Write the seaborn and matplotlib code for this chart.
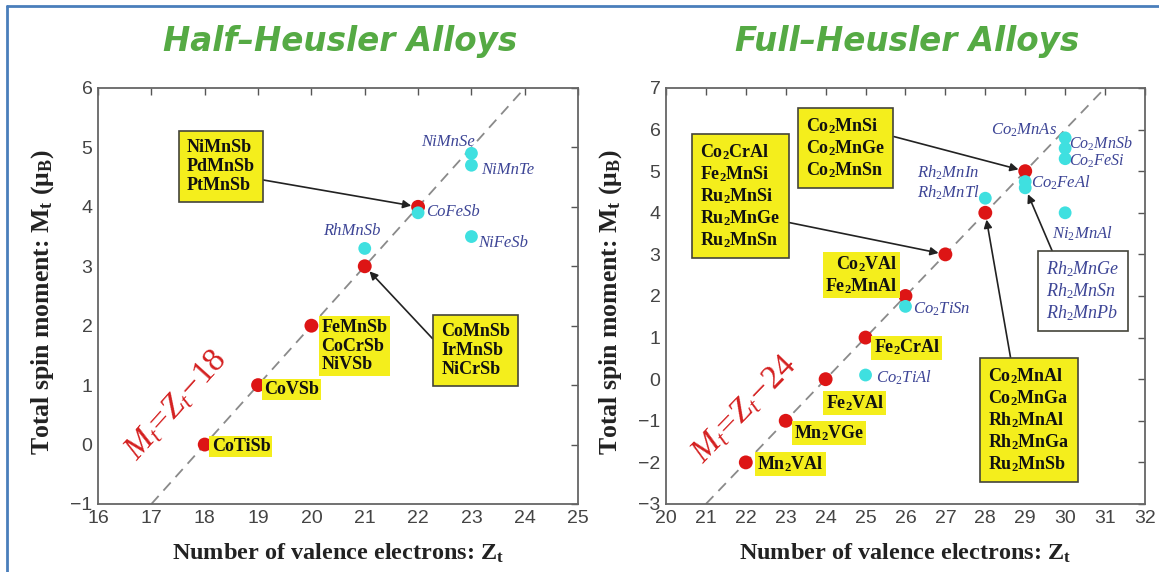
import matplotlib
matplotlib.use('Agg')
import matplotlib.pyplot as plt
import seaborn as sns
from matplotlib.lines import Line2D

# ---- data: half-Heusler ----
hh_red_z = [18, 19, 20, 21, 22]
hh_red_m = [0, 1, 2, 3, 4]
hh_cyan_z = [21, 22, 23, 23, 23]
hh_cyan_m = [3.3, 3.9, 4.9, 4.7, 3.5]
hh_line_z = [17, 24]
hh_line_m = [-1, 6]

# ---- data: full-Heusler ----
fh_red_z = [22, 23, 24, 25, 26, 27, 28, 29]
fh_red_m = [-2, -1, 0, 1, 2, 3, 4, 5]
fh_cyan_z = [25, 26, 28, 29, 29, 30, 30, 30, 30]
fh_cyan_m = [0.1, 1.75, 4.35, 4.75, 4.6, 5.8, 5.55, 5.3, 4.0]
fh_line_z = [21, 31]
fh_line_m = [-3, 7]

sns.set_style('white')
plt.rcParams['font.family'] = ['Liberation Serif', 'DejaVu Serif']
plt.rcParams['mathtext.fontset'] = 'custom'
plt.rcParams['mathtext.rm'] = 'Liberation Serif'
plt.rcParams['mathtext.it'] = 'Liberation Serif:italic'
plt.rcParams['mathtext.bf'] = 'Liberation Serif:bold'

RED = '#dd1515'
CYAN = '#3fe0e0'
BLUE = '#3d4596'
YEL = '#f4ee1c'
GREEN = '#55aa44'

fig = plt.figure(figsize=(11.59, 5.72), dpi=100)
ax1 = fig.add_axes([0.0846, 0.1189, 0.4142, 0.7273])
ax2 = fig.add_axes([0.5746, 0.1189, 0.4133, 0.7273])


def style_axes(ax, xlim, ylim):
    ax.set_xlim(*xlim)
    ax.set_ylim(*ylim)
    ax.set_xticks(range(xlim[0], xlim[1] + 1))
    ax.set_yticks(range(ylim[0], ylim[1] + 1))
    for lab in ax.get_xticklabels() + ax.get_yticklabels():
        lab.set_family('Liberation Sans')
    ax.tick_params(direction='in', top=True, right=True, length=5, width=1,
                   color='#555555', labelcolor='#444444', labelsize=14, pad=4)
    for s in ax.spines.values():
        s.set_color('#666666')
        s.set_linewidth(1.3)
    ax.set_xlabel(r'Number of valence electrons: Z$_\mathbf{t}$', fontsize=17.5,
                  fontweight='bold', color='#222222')
    ax.set_ylabel(r'Total spin moment: M$_\mathbf{t}$ ($\mathbf{\mu}_\mathbf{B}$)',
                  fontsize=18.5, fontweight='bold', color='#222222')
    ax.xaxis.set_label_coords(0.5, -0.09)
    ax.yaxis.set_label_coords(-0.088, 0.486)


def plot_points(ax, lz, lm, rz, rm, cz, cm):
    sns.lineplot(x=lz, y=lm, ax=ax, color='#8a8a8a', lw=1.3, linestyle=(0, (6, 4)))
    sns.scatterplot(x=rz, y=rm, ax=ax, color=RED, s=100, edgecolor='none', zorder=3)
    sns.scatterplot(x=cz, y=cm, ax=ax, color=CYAN, s=85, edgecolor='none', zorder=4)


def ylabel_plain(ax, x, y, s, ha='left', va='center'):
    ax.text(x, y, s, ha=ha, va=va, fontsize=13, fontweight='bold', color='#111111',
            zorder=5, linespacing=1.15,
            bbox=dict(boxstyle='square,pad=0.12', fc=YEL, ec='none'))


def blue(ax, x, y, s, ha='left', va='center', size=12):
    ax.text(x, y, s, ha=ha, va=va, fontsize=size, style='italic', color=BLUE, zorder=5)


def boxed(ax, xy, xytext, s, relpos, fc=YEL, color='#111111', italic=False):
    ax.annotate(s, xy=xy, xytext=xytext, ha='center', va='center', fontsize=13,
                fontweight='normal' if italic else 'bold',
                style='italic' if italic else 'normal', color=color,
                multialignment='left', linespacing=1.15, zorder=6,
                bbox=dict(boxstyle='square,pad=0.45', fc=fc, ec='#44443a', lw=1.2),
                arrowprops=dict(arrowstyle='-|>', color='#222222', lw=1.2,
                                relpos=relpos, shrinkA=0, shrinkB=5,
                                mutation_scale=12))


# ---- left panel ----
plot_points(ax1, hh_line_z, hh_line_m, hh_red_z, hh_red_m, hh_cyan_z, hh_cyan_m)
style_axes(ax1, (16, 25), (-1, 6))
ylabel_plain(ax1, 18.13, -0.03, 'CoTiSb')
ylabel_plain(ax1, 19.11, 0.93, 'CoVSb')
ylabel_plain(ax1, 20.19, 2.12, 'FeMnSb\nCoCrSb\nNiVSb', va='top')
boxed(ax1, (22, 4), (18.3, 4.68), 'NiMnSb\nPdMnSb\nPtMnSb', (1, 0.28))
boxed(ax1, (21, 3), (23.08, 1.58), 'CoMnSb\nIrMnSb\nNiCrSb', (0, 0.55))
blue(ax1, 23.07, 5.09, 'NiMnSe', ha='right')
blue(ax1, 23.19, 4.62, 'NiMnTe')
blue(ax1, 22.15, 3.91, 'CoFeSb')
blue(ax1, 20.76, 3.6, 'RhMnSb', ha='center')
blue(ax1, 23.13, 3.39, 'NiFeSb')
ax1.text(17.47, 0.66, r'$M_t\!=\!Z_t\!-\!18$', rotation=48, ha='center', va='center',
         fontsize=24, color='#d42020', zorder=5)

# ---- right panel ----
plot_points(ax2, fh_line_z, fh_line_m, fh_red_z, fh_red_m, fh_cyan_z, fh_cyan_m)
style_axes(ax2, (20, 32), (-3, 7))
ylabel_plain(ax2, 22.28, -2.04, r'Mn$_\mathbf{2}$VAl')
ylabel_plain(ax2, 23.2, -1.29, r'Mn$_\mathbf{2}$VGe')
ylabel_plain(ax2, 24.0, -0.57, r'Fe$_\mathbf{2}$VAl')
ylabel_plain(ax2, 25.2, 0.76, r'Fe$_\mathbf{2}$CrAl')
ylabel_plain(ax2, 25.8, 2.5, 'Co$_\\mathbf{2}$VAl\nFe$_\\mathbf{2}$MnAl', ha='right')
boxed(ax2, (27, 3), (21.87, 4.4),
      'Co$_\\mathbf{2}$CrAl\nFe$_\\mathbf{2}$MnSi\nRu$_\\mathbf{2}$MnSi\nRu$_\\mathbf{2}$MnGe\nRu$_\\mathbf{2}$MnSn',
      (1, 0.27))
boxed(ax2, (29, 5), (24.5, 5.55),
      'Co$_\\mathbf{2}$MnSi\nCo$_\\mathbf{2}$MnGe\nCo$_\\mathbf{2}$MnSn', (1, 0.72))
boxed(ax2, (28, 4), (29.1, -0.98),
      'Co$_\\mathbf{2}$MnAl\nCo$_\\mathbf{2}$MnGa\nRh$_\\mathbf{2}$MnAl\nRh$_\\mathbf{2}$MnGa\nRu$_\\mathbf{2}$MnSb',
      (0.29, 1))
boxed(ax2, (29, 4.6), (30.45, 2.11),
      'Rh$_2$MnGe\nRh$_2$MnSn\nRh$_2$MnPb', (0.13, 1), fc='white', color=BLUE,
      italic=True)
blue(ax2, 25.25, 0.04, r'Co$_2$TiAl')
blue(ax2, 26.2, 1.67, r'Co$_2$TiSn')
blue(ax2, 27.85, 4.95, r'Rh$_2$MnIn', ha='right')
blue(ax2, 27.85, 4.49, r'Rh$_2$MnTl', ha='right')
blue(ax2, 29.8, 5.99, r'Co$_2$MnAs', ha='right')
blue(ax2, 30.1, 5.66, r'Co$_2$MnSb', size=11.5)
blue(ax2, 30.1, 5.24, r'Co$_2$FeSi', size=11.5)
blue(ax2, 29.15, 4.71, r'Co$_2$FeAl')
blue(ax2, 29.68, 3.5, r'Ni$_2$MnAl')
ax2.text(21.98, -0.71, r'$M_t\!=\!Z_t\!-\!24$', rotation=46, ha='center', va='center',
         fontsize=24, color='#d42020', zorder=5)

# ---- titles ----
for cx, title in [(340, 'Half\u2013Heusler Alloys'), (907, 'Full\u2013Heusler Alloys')]:
    fig.text(cx / 1159, 1 - 42 / 572, title, ha='center', va='center',
             fontsize=23.5, fontweight='bold', style='italic', color=GREEN,
             family=['DejaVu Sans'])

# ---- blue frame ----
fig.add_artist(Line2D([7 / 1159, 1], [1 - 6 / 572, 1 - 6 / 572], transform=fig.transFigure,
                      color='#4a7ebb', lw=2))
fig.add_artist(Line2D([7 / 1159, 7 / 1159], [0, 1 - 6 / 572], transform=fig.transFigure,
                      color='#4a7ebb', lw=2))

fig.savefig('out.png', dpi=100)
